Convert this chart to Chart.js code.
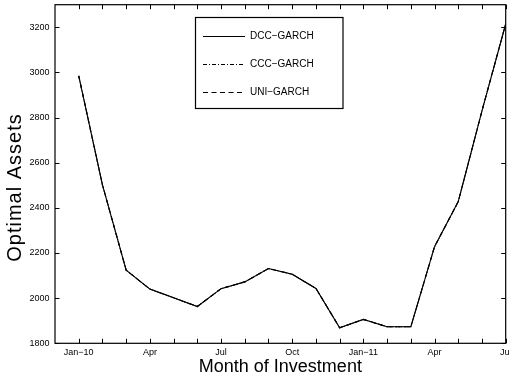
<!DOCTYPE html>
<html>
<head>
<meta charset="utf-8">
<script src="https://cdn.jsdelivr.net/npm/chart.js@4/dist/chart.umd.min.js"></script>
<style>
  html, body { margin: 0; padding: 0; background: #fff; }
  #wrap { width: 510px; height: 377px; }
</style>
</head>
<body>
<div id="wrap"><canvas id="c" width="510" height="377"></canvas></div>
<script>
// ---- data ----
const months = ['Jan-10','Feb-10','Mar-10','Apr-10','May-10','Jun-10','Jul-10','Aug-10','Sep-10',
                'Oct-10','Nov-10','Dec-10','Jan-11','Feb-11','Mar-11','Apr-11','May-11','Jun-11','Jul-11'];
const dccGarch = [2985, 2502, 2124, 2040, 2002, 1963, 2042, 2072, 2131, 2106, 2043, 1869, 1906, 1873, 1873, 2228, 2428, 2830, 3215];
const cccGarch = [2985, 2502, 2124, 2040, 2002, 1963, 2042, 2072, 2131, 2106, 2043, 1869, 1906, 1873, 1873, 2228, 2428, 2830, 3215];
const uniGarch = [2985, 2502, 2124, 2040, 2002, 1963, 2042, 2072, 2131, 2106, 2043, 1869, 1906, 1873, 1873, 2228, 2428, 2830, 3215];
const seriesNames = ['DCC\u2212GARCH', 'CCC\u2212GARCH', 'UNI\u2212GARCH'];
const tickMonths = [0, 3, 6, 9, 12, 15, 18];
const tickLabels = ['Jan\u221210', 'Apr', 'Jul', 'Oct', 'Jan\u221211', 'Apr', 'Jul'];
const yTicks = [1800, 2000, 2200, 2400, 2600, 2800, 3000, 3200];
const yTitle = 'Optimal Assets';
const xTitle = 'Month of Investment';

const FONT = "'Liberation Sans', Arial, Helvetica, sans-serif";
const toPts = arr => arr.map((v, i) => ({ x: i, y: v }));
const dashes = [[], [4, 2, 1, 2], [5, 3.5]];

const decor = {
  id: 'decor',
  afterDraw(chart) {
    const ctx = chart.ctx;
    const a = chart.chartArea;
    const xs = chart.scales.x, ys = chart.scales.y;
    ctx.save();
    ctx.strokeStyle = '#000';
    // box
    ctx.lineWidth = 1.2;
    ctx.strokeRect(a.left, a.top, a.right - a.left, a.bottom - a.top);
    // inward ticks
    ctx.lineWidth = 1;
    const tl = 4.5;
    ctx.beginPath();
    for (let i = 0; i < months.length; i++) {
      const px = Math.round(xs.getPixelForValue(i)) + 0.5;
      ctx.moveTo(px, a.bottom); ctx.lineTo(px, a.bottom - tl);
      ctx.moveTo(px, a.top); ctx.lineTo(px, a.top + tl);
    }
    for (const v of yTicks) {
      const py = Math.round(ys.getPixelForValue(v)) + 0.5;
      ctx.moveTo(a.left, py); ctx.lineTo(a.left + tl, py);
      ctx.moveTo(a.right, py); ctx.lineTo(a.right - tl, py);
    }
    ctx.stroke();

    // legend box
    const lx = 195.5, ly = 17.5, lw = 147.5, lh = 91;
    ctx.fillStyle = '#fff';
    ctx.fillRect(lx, ly, lw, lh);
    ctx.lineWidth = 1.2;
    ctx.strokeRect(lx, ly, lw, lh);
    const rows = [36, 64, 92];
    ctx.font = '10px ' + FONT;
    ctx.textBaseline = 'middle';
    ctx.textAlign = 'left';
    chart.data.datasets.forEach((ds, k) => {
      const y = rows[k] + 0.5;
      ctx.beginPath();
      ctx.setLineDash(ds.borderDash || []);
      ctx.lineWidth = 1;
      ctx.moveTo(203, y); ctx.lineTo(245, y);
      ctx.stroke();
      ctx.setLineDash([]);
      ctx.fillStyle = '#000';
      ctx.fillText(ds.label, 250, rows[k] + 0.5);
    });

    // axis titles
    ctx.fillStyle = '#000';
    ctx.font = '18px ' + FONT;
    ctx.textAlign = 'center';
    ctx.textBaseline = 'middle';
    ctx.fillText(xTitle, (a.left + a.right) / 2, 367);
    ctx.translate(15, 188);
    ctx.rotate(-Math.PI / 2);
    ctx.font = '20px ' + FONT;
    try { ctx.letterSpacing = '1px'; } catch (e) {}
    ctx.fillText(yTitle, 0.5, 0);
    ctx.restore();
  }
};

new Chart(document.getElementById('c'), {
  type: 'line',
  data: {
    datasets: [dccGarch, cccGarch, uniGarch].map((arr, k) => ({
      label: seriesNames[k],
      data: toPts(arr),
      borderColor: '#000',
      backgroundColor: '#000',
      borderWidth: 1.1,
      borderDash: dashes[k],
      pointRadius: 0,
      tension: 0,
      fill: false
    }))
  },
  options: {
    responsive: false,
    animation: false,
    layout: { padding: { left: 0, right: 4.3, top: 4.7, bottom: 0 } },
    plugins: { legend: { display: false }, tooltip: { enabled: false } },
    scales: {
      x: {
        type: 'linear',
        min: -1, max: 18,
        grid: { display: false, drawTicks: false },
        border: { display: false },
        ticks: {
          stepSize: 1, autoSkip: false, maxRotation: 0, minRotation: 0,
          padding: 4,
          color: '#000',
          font: { family: FONT, size: 9 },
          callback: v => { const k = tickMonths.indexOf(v); return k >= 0 ? tickLabels[k] : ''; }
        },
        afterFit: s => { s.height = 33.7; s.paddingLeft = 0; s.paddingRight = 0; }
      },
      y: {
        min: 1800, max: 3300,
        grid: { display: false, drawTicks: false },
        border: { display: false },
        ticks: {
          stepSize: 200, includeBounds: false,
          padding: 5.5,
          color: '#000',
          font: { family: FONT, size: 9 },
          callback: v => String(v)
        },
        afterFit: s => { s.width = 55; s.paddingTop = 0; s.paddingBottom = 0; }
      }
    }
  },
  plugins: [decor]
});
</script>
</body>
</html>
